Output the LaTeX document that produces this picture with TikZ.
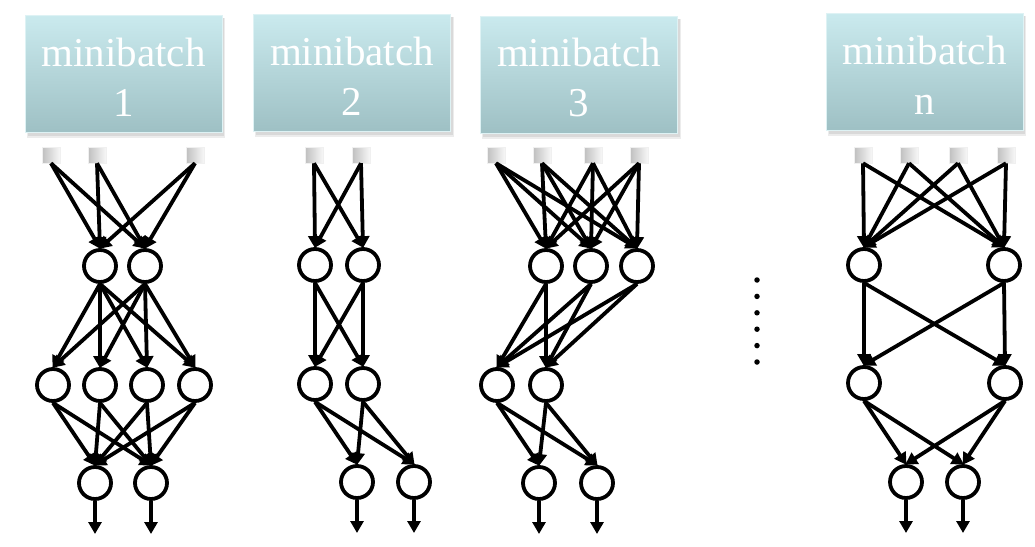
\documentclass[tikz,border=0pt]{standalone}
\usepackage{fontspec}
\setmainfont{Liberation Serif}
\usetikzlibrary{arrows.meta}
\definecolor{boxtop}{RGB}{202,234,238}
\definecolor{boxbot}{RGB}{158,192,196}
\definecolor{boxedge}{RGB}{222,242,244}
\tikzset{
  x=1pt, y=-1pt,
  mbox/.style={rectangle, minimum width=197pt, minimum height=117pt, inner sep=0pt,
    top color=boxtop, bottom color=boxbot, draw=boxedge, line width=1pt},
  mtext/.style={text=white, align=center, inner sep=0pt, font=\fontsize{41}{50}\selectfont},
  sq/.style={rectangle, minimum width=18pt, minimum height=16pt, inner sep=0pt,
    left color=black!25, right color=black!3, draw=black!6, line width=0.5pt},
  neu/.style={circle, draw=black, line width=3.8pt, minimum size=32pt, inner sep=0pt, fill=white},
  con/.style={line width=3.8pt, -{Triangle[length=12pt,width=13pt]}, shorten >=-1pt},
  dot/.style={circle, fill=black, inner sep=0pt, minimum size=5.5pt},
}
\begin{document}
\begin{tikzpicture}
\useasboundingbox (0,0) rectangle (1035,546);
% shadows of boxes
\foreach \cx/\cy in {123.5/74, 352/73, 579/74.5, 924.5/72}{
  \fill[black!30, opacity=0.5] (\cx-96,\cy-56) rectangle (\cx+100.5,\cy+62);
  \fill[black!15, opacity=0.5] (\cx-97,\cy-56) rectangle (\cx+101.5,\cy+64);
}
% boxes
\node[mbox] (m1) at (123.5,74) {};
\node[mbox] (m2) at (352,73) {};
\node[mbox] (m3) at (579,74.5) {};
\node[mbox] (m4) at (924.5,72) {};
\node[mtext] (t1) at ([yshift=-3pt]m1.center) {minibatch\\1};
\node[mtext] (t2) at ([yshift=-3pt]m2.center) {minibatch\\2};
\node[mtext] (t3) at ([yshift=-3pt]m3.center) {minibatch\\3};
\node[mtext] (t4) at ([yshift=-3pt]m4.center) {minibatch\\n};

% ---------- panel 1
\node[sq] (s11) at (51,155) {};
\node[sq] (s12) at (97,155) {};
\node[sq] (s13) at (195,155) {};
\node[neu] (a11) at (100,266) {};
\node[neu] (a12) at (145,266) {};
\node[neu] (b11) at (53,385) {};
\node[neu] (b12) at (100,385) {};
\node[neu] (b13) at (147,385) {};
\node[neu] (b14) at (195,385) {};
\node[neu] (c11) at (95,483) {};
\node[neu] (c12) at (151,483) {};
\coordinate (o11) at (95,533);
\coordinate (o12) at (151,533);

% ---------- panel 2
\node[sq] (s21) at (314,155) {};
\node[sq] (s22) at (361,155) {};
\node[neu] (a21) at (315,265) {};
\node[neu] (a22) at (363,265) {};
\node[neu] (b21) at (315,384) {};
\node[neu] (b22) at (363,384) {};
\node[neu] (c21) at (357,482) {};
\node[neu] (c22) at (414,482) {};
\coordinate (o21) at (357,532);
\coordinate (o22) at (414,532);

% ---------- panel 3
\node[sq] (s31) at (496,155) {};
\node[sq] (s32) at (542,155) {};
\node[sq] (s33) at (593,155) {};
\node[sq] (s34) at (639,155) {};
\node[neu] (a31) at (546,266) {};
\node[neu] (a32) at (591,266) {};
\node[neu] (a33) at (637,266) {};
\node[neu] (b31) at (497,385) {};
\node[neu] (b32) at (546,385) {};
\node[neu] (c31) at (539,483) {};
\node[neu] (c32) at (597,483) {};
\coordinate (o31) at (539,533);
\coordinate (o32) at (597,533);

% ---------- panel n
\node[sq] (s41) at (863,155) {};
\node[sq] (s42) at (909,155) {};
\node[sq] (s43) at (958,155) {};
\node[sq] (s44) at (1006,155) {};
\node[neu] (a41) at (864,265) {};
\node[neu] (a42) at (1004,265) {};
\node[neu] (b41) at (864,383) {};
\node[neu] (b42) at (1005,383) {};
\node[neu] (c41) at (906,482) {};
\node[neu] (c42) at (963,482) {};
\coordinate (o41) at (906,532);
\coordinate (o42) at (963,532);

% dots
\foreach \i in {0,...,5}{
  \node[dot] (d\i) at (757,280+16.4*\i) {};
}

% connections
\foreach \s in {s11,s12,s13}{\foreach \t in {a11,a12}{\draw[con] (\s.south) -- (\t.north);}}
\foreach \s in {a11,a12}{\foreach \t in {b11,b12,b13,b14}{\draw[con] (\s.south) -- (\t.north);}}
\foreach \s in {b11,b12,b13,b14}{\foreach \t in {c11,c12}{\draw[con] (\s.south) -- (\t.north);}}
\draw[con] (c11.south) -- (o11);
\draw[con] (c12.south) -- (o12);

\foreach \s in {s21,s22}{\foreach \t in {a21,a22}{\draw[con] (\s.south) -- (\t.north);}}
\foreach \s in {a21,a22}{\foreach \t in {b21,b22}{\draw[con] (\s.south) -- (\t.north);}}
\foreach \s in {b21,b22}{\foreach \t in {c21,c22}{\draw[con] (\s.south) -- (\t.north);}}
\draw[con] (c21.south) -- (o21);
\draw[con] (c22.south) -- (o22);

\foreach \s in {s31,s32,s33,s34}{\foreach \t in {a31,a32,a33}{\draw[con] (\s.south) -- (\t.north);}}
\foreach \s in {a31,a32,a33}{\foreach \t in {b31,b32}{\draw[con] (\s.south) -- (\t.north);}}
\foreach \s in {b31,b32}{\foreach \t in {c31,c32}{\draw[con] (\s.south) -- (\t.north);}}
\draw[con] (c31.south) -- (o31);
\draw[con] (c32.south) -- (o32);

\foreach \s in {s41,s42,s43,s44}{\foreach \t in {a41,a42}{\draw[con] (\s.south) -- (\t.north);}}
\foreach \s in {a41,a42}{\foreach \t in {b41,b42}{\draw[con] (\s.south) -- (\t.north);}}
\foreach \s in {b41,b42}{\foreach \t in {c41,c42}{\draw[con] (\s.south) -- (\t.north);}}
\draw[con] (c41.south) -- (o41);
\draw[con] (c42.south) -- (o42);
\end{tikzpicture}
\end{document}
